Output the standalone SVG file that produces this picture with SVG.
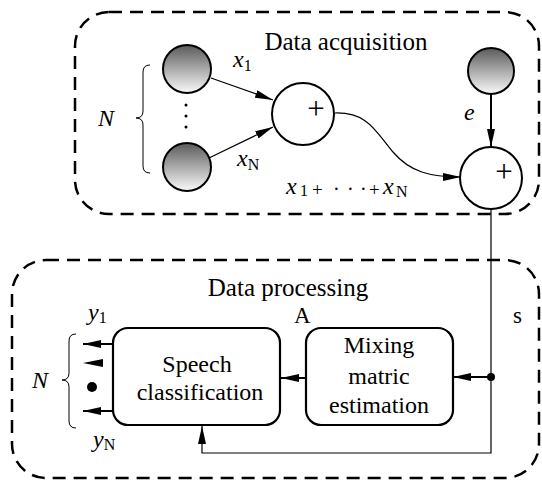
<svg xmlns="http://www.w3.org/2000/svg" width="542" height="481" viewBox="0 0 542 481">
<style>
.t{font-family:"Liberation Serif","Times New Roman",serif;fill:#000}
.i{font-style:italic}
.dash{fill:none;stroke:#000;stroke-width:2.5;stroke-dasharray:13 8}
.src{stroke:#000;stroke-width:2;fill:url(#g)}
.sum{stroke:#000;stroke-width:2;fill:#fff}
.box{stroke:#000;stroke-width:2.2;fill:#fff}
.ln{fill:none;stroke:#000;stroke-width:1.2}
.thk{fill:none;stroke:#000;stroke-width:2}
.br{fill:none;stroke:#000;stroke-width:1}
</style>
<defs>
<linearGradient id="g" x1="0" y1="0" x2="0" y2="1">
<stop offset="0" stop-color="#5a5a5a"/>
<stop offset="1" stop-color="#fafafa"/>
</linearGradient>
<marker id="ah" markerUnits="userSpaceOnUse" markerWidth="18" markerHeight="8" refX="18" refY="4" orient="auto" viewBox="0 0 18 8">
<path d="M0,0 L18,4 L0,8 z" fill="#000"/>
</marker>
</defs>
<g id="acquisition-frame">
<rect class="dash" x="75" y="12" width="464" height="202" rx="34" ry="34"/>
<text class="t" x="346" y="50" font-size="25" text-anchor="middle">Data acquisition</text>
</g>
<g id="processing-frame">
<rect class="dash" x="12" y="260" width="527" height="218" rx="34" ry="34"/>
<text class="t" x="288" y="296" font-size="25" text-anchor="middle">Data processing</text>
</g>
<g id="connectors">
<line class="ln" x1="211" y1="78" x2="273" y2="100" marker-end="url(#ah)"/>
<line class="ln" x1="209" y1="158" x2="273" y2="127" marker-end="url(#ah)"/>
<path class="ln" d="M335,113 C368,112 376,132 393,152 C410,172 430,177 461,177" marker-end="url(#ah)"/>
<line class="thk" x1="491" y1="94" x2="491" y2="147" marker-end="url(#ah)"/>
<polyline class="ln" points="491,209 491,453 202,453 202,426" marker-end="url(#ah)"/>
<line class="thk" x1="491" y1="377" x2="453" y2="377" marker-end="url(#ah)"/>
<line class="thk" x1="306" y1="378" x2="281" y2="378" marker-end="url(#ah)"/>
<line class="thk" x1="113" y1="344" x2="83" y2="344" marker-end="url(#ah)"/>
<path d="M83,363 L103,359 L103,367 z" fill="#000"/>
<line class="thk" x1="113" y1="411" x2="83" y2="411" marker-end="url(#ah)"/>
<circle cx="491" cy="377" r="4" fill="#000"/>
</g>
<g id="source-1">
<circle class="src" cx="187" cy="69" r="24"/>
</g>
<g id="source-N">
<circle class="src" cx="187" cy="167" r="24"/>
</g>
<g id="source-dots">
<circle cx="186" cy="105" r="1.5" fill="#000"/>
<circle cx="186" cy="116" r="1.5" fill="#000"/>
<circle cx="186" cy="127" r="1.5" fill="#000"/>
</g>
<g id="noise-source">
<circle class="src" cx="491" cy="71" r="23"/>
</g>
<g id="sum-1">
<circle class="sum" cx="303" cy="114" r="31"/>
<text class="t" x="316" y="119" font-size="31" text-anchor="middle">+</text>
</g>
<g id="sum-2">
<circle class="sum" cx="491" cy="178" r="31"/>
<text class="t" x="504" y="182" font-size="31" text-anchor="middle">+</text>
</g>
<g id="speech-classification">
<rect class="box" x="113" y="328" width="167" height="97" rx="15" ry="15"/>
<text class="t" x="197" y="372" font-size="24" text-anchor="middle">Speech</text>
<text class="t" x="200" y="400" font-size="24" text-anchor="middle">classification</text>
</g>
<g id="mixing-matrix">
<rect class="box" x="306" y="328" width="147" height="97" rx="15" ry="15"/>
<text class="t" x="379" y="353" font-size="24" text-anchor="middle">Mixing</text>
<text class="t" x="379" y="384" font-size="24" text-anchor="middle">matric</text>
<text class="t" x="379" y="413" font-size="24" text-anchor="middle">estimation</text>
</g>
<g id="output-dot">
<circle cx="92" cy="387" r="5" fill="#000"/>
</g>
<g id="labels">
<path class="br" d="M150,65 Q143,65 143,72 L143,111 Q143,118 136,118 Q143,118 143,125 L143,166 Q143,173 150,173"/>
<text class="t i" x="98" y="126" font-size="24">N</text>
<path class="br" d="M76,334 Q69,334 69,341 L69,373 Q69,380 62,380 Q69,380 69,387 L69,421 Q69,428 76,428"/>
<text class="t i" x="32" y="388" font-size="24">N</text>
<text class="t" x="233" y="67" font-size="24"><tspan class="i">x</tspan><tspan font-size="16" dy="4">1</tspan></text>
<text class="t" x="237" y="166" font-size="24"><tspan class="i">x</tspan><tspan font-size="16" dy="4">N</tspan></text>
<text class="t" x="286" y="194" font-size="24"><tspan class="i">x</tspan><tspan font-size="16" x="300" dy="2">1</tspan><tspan font-size="19" x="312">+</tspan><tspan font-size="20" x="333">·</tspan><tspan font-size="20" x="347">·</tspan><tspan font-size="20" x="360">·</tspan><tspan font-size="19" x="369">+</tspan><tspan class="i" x="383" dy="-2">x</tspan><tspan font-size="16" x="396" dy="3">N</tspan></text>
<text class="t i" x="464" y="120" font-size="24">e</text>
<text class="t" x="88" y="320" font-size="24"><tspan class="i">y</tspan><tspan font-size="16" dy="3">1</tspan></text>
<text class="t" x="93" y="447" font-size="24"><tspan class="i">y</tspan><tspan font-size="16" dy="3">N</tspan></text>
<text class="t" x="294" y="323" font-size="23">A</text>
<text class="t" x="513" y="323" font-size="23">s</text>
</g>
</svg>
